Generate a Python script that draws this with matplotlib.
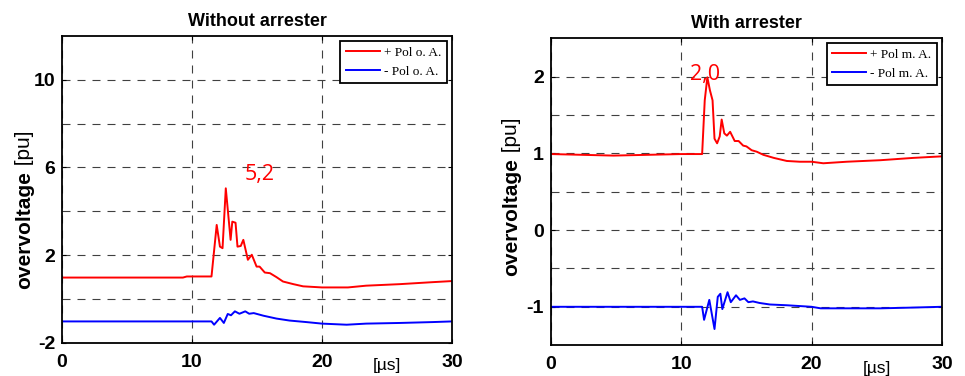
"""
plot.py - overvoltage with and without arrester
"""

# import needed modules
import matplotlib
matplotlib.use("Agg")
import matplotlib.pyplot as plt
from matplotlib.ticker import FixedLocator

# ---- data ----
# without arrester, positive polarity
t_pos_wo = [0, 9.3, 9.6, 11.5, 11.9, 12.15, 12.35, 12.6, 12.97, 13.1, 13.35, 13.5, 13.75,
            13.95, 14.3, 14.6, 14.97, 15.2, 15.6, 16.0, 16.5, 17.0, 17.8, 18.55, 20.0,
            22.0, 23.4, 26.0, 28.5, 30.0]
u_pos_wo = [0.98, 0.98, 1.03, 1.03, 3.38, 2.39, 2.32, 5.05, 2.70, 3.53, 3.48, 2.39, 2.42,
            2.70, 1.79, 2.02, 1.48, 1.48, 1.21, 1.18, 1.0, 0.80, 0.68, 0.58, 0.53,
            0.53, 0.61, 0.68, 0.77, 0.82]

# without arrester, negative polarity
t_neg_wo = [0, 11.5, 11.7, 12.15, 12.45, 12.75, 13.0, 13.3, 13.65, 14.1, 14.4, 14.75,
            15.5, 16.5, 17.5, 18.8, 20.0, 21.9, 23.4, 26.0, 28.5, 30.0]
u_neg_wo = [-1.02, -1.02, -1.17, -0.86, -1.09, -0.68, -0.74, -0.56, -0.67, -0.56, -0.67, -0.64,
            -0.76, -0.89, -0.98, -1.05, -1.12, -1.17, -1.12, -1.09, -1.05, -1.02]

# with arrester, positive polarity
t_pos_w = [0, 4.8, 10.0, 11.6, 11.8, 12.0, 12.2, 12.4, 12.55, 12.75, 12.95, 13.1, 13.3,
           13.5, 13.75, 14.1, 14.4, 14.75, 15.0, 15.4, 15.8, 16.3, 17.1, 18.1, 19.1,
           20.0, 20.9, 22.7, 25.3, 27.8, 30.0]
u_pos_w = [0.99, 0.97, 0.99, 0.99, 1.69, 1.99, 1.82, 1.69, 1.19, 1.13, 1.22, 1.44, 1.26,
           1.23, 1.28, 1.16, 1.16, 1.10, 1.09, 1.04, 1.02, 0.98, 0.94, 0.90, 0.89,
           0.89, 0.87, 0.89, 0.91, 0.94, 0.96]

# with arrester, negative polarity
t_neg_w = [0, 11.6, 11.75, 12.15, 12.55, 12.8, 13.0, 13.15, 13.55, 13.8, 14.2, 14.5,
           14.85, 15.15, 15.5, 16.0, 16.8, 18.1, 20.0, 20.7, 22.7, 25.3, 27.8, 30.0]
u_neg_w = [-1.0, -1.0, -1.17, -0.91, -1.29, -0.87, -0.83, -1.03, -0.81, -0.94, -0.85, -0.91,
           -0.89, -0.94, -0.93, -0.95, -0.97, -0.98, -1.0, -1.02, -1.02, -1.02, -1.01, -1.0]

# peak annotations: (x, y, text)
peak_wo = (15.2, 5.7, "5,2")
peak_w = (11.85, 2.03, "2,0")

labels_wo = ["+ Pol o. A.", "- Pol o. A."]
labels_w = ["+ Pol m. A.", "- Pol m. A."]

x_ticks = [0, 10, 20, 30]
y_ticks_wo = [-2, 2, 6, 10]
y_minor_wo = [0, 4, 8]
y_ticks_w = [-1, 0, 1, 2]
y_minor_w = [-0.5, 0.5, 1.5]

plt.rcParams['font.family'] = ['Liberation Sans', 'DejaVu Sans']
plt.rcParams['axes.unicode_minus'] = False  # plain hyphen like the original


def style_axes(ax, title, yticks, yminor, ylim, ylab_pos):
    ax.set_xlim(0, 30)
    ax.set_ylim(*ylim)
    ax.set_title(title, fontsize=13, fontweight='bold', pad=7)

    ax.xaxis.set_major_locator(FixedLocator(x_ticks))
    ax.yaxis.set_major_locator(FixedLocator(yticks))
    ax.yaxis.set_minor_locator(FixedLocator(yminor))
    ax.tick_params(which='both', direction='in', length=3, top=True, right=True)
    ax.tick_params(which='minor', length=0)
    ax.tick_params(axis='x', pad=8)
    ax.tick_params(axis='y', pad=5)
    for lbl in ax.get_xticklabels() + ax.get_yticklabels():
        lbl.set_fontweight('bold')
        lbl.set_fontsize(14)

    # dashed matlab-like grid
    ax.grid(True, which='both', color='0.25', linestyle=(0, (7.2, 6.3)), linewidth=0.8)
    ax.set_axisbelow(True)
    for sp in ax.spines.values():
        sp.set_linewidth(1.3)

    # y label: bold word + regular unit
    x_lab, y_lab = ylab_pos
    ax.text(x_lab, y_lab, "overvoltage", transform=ax.transAxes, rotation=90,
            fontsize=15, fontweight='bold', ha='center', va='top')
    ax.text(x_lab, y_lab, " [pu]", transform=ax.transAxes, rotation=90,
            fontsize=15, ha='center', va='bottom')

    # time unit at the x tick row
    ax.text(25, -0.075, "[\u00b5s]", transform=ax.get_xaxis_transform(),
            fontsize=12.5, ha='center', va='center')


def draw_panel(ax, t_pos, u_pos, t_neg, u_neg, labels, peak):
    ax.plot(t_pos, u_pos, color='red', lw=1.4, label=labels[0])
    ax.plot(t_neg, u_neg, color='blue', lw=1.4, label=labels[1])
    ax.text(peak[0], peak[1], peak[2], color='red', fontsize=15.5,
            family=['Open Sans', 'DejaVu Sans'], ha='center', va='center')
    leg = ax.legend(loc='upper right', prop={'family': 'Liberation Serif', 'size': 9.5},
                    fancybox=False, framealpha=1, edgecolor='black',
                    borderaxespad=0.4, handlelength=2.6, handletextpad=0.3)
    leg.get_frame().set_linewidth(1.3)


fig = plt.figure(figsize=(9.65, 3.76), dpi=100)
ax1 = fig.add_axes([0.0643, 0.088, 0.404, 0.8165])
ax2 = fig.add_axes([0.571, 0.082, 0.405, 0.8165])

draw_panel(ax1, t_pos_wo, u_pos_wo, t_neg_wo, u_neg_wo, labels_wo, peak_wo)
style_axes(ax1, "Without arrester", y_ticks_wo, y_minor_wo, (-2, 12), (-0.097, 0.56))

draw_panel(ax2, t_pos_w, u_pos_w, t_neg_w, u_neg_w, labels_w, peak_w)
style_axes(ax2, "With arrester", y_ticks_w, y_minor_w, (-1.5, 2.5), (-0.1, 0.61))

fig.savefig("out.png", dpi=100)
